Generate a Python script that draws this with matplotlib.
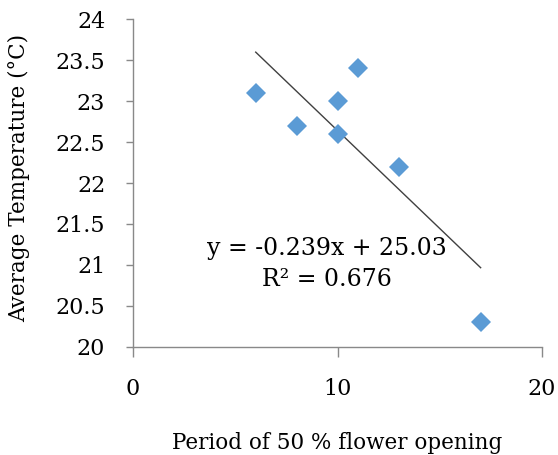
import matplotlib
matplotlib.use("Agg")
import matplotlib.pyplot as plt
import numpy as np

# Days to 50 % flower opening vs. average temperature
period_days = [6, 8, 10, 10, 11, 13, 17]
avg_temp_c = [23.1, 22.7, 23.0, 22.6, 23.4, 22.2, 20.3]

x_ticks = [0, 10, 20]
y_ticks = [20, 20.5, 21, 21.5, 22, 22.5, 23, 23.5, 24]

slope = -0.239
intercept = 25.03
r_squared = 0.676

SERIF = "DejaVu Serif"

fig = plt.figure(figsize=(5.58, 4.55), dpi=100)
ax = fig.add_axes([0.2384, 0.2374, 0.9713 - 0.2384, 0.9582 - 0.2374])

ax.plot(period_days, avg_temp_c, linestyle="none", marker="D",
        markersize=10.3, color="#5B9BD5", markeredgewidth=0, zorder=3)

# Linear trendline over the observed range
xs = np.array([min(period_days), max(period_days)])
ax.plot(xs, slope * xs + intercept, color="#404040", linewidth=1.0, zorder=2)

ax.text(9.5, 21.207, f"y = {slope}x + {intercept}", ha="center", va="center",
        fontsize=17, family=SERIF)
ax.text(9.5, 20.817, f"R² = {r_squared}", ha="center", va="center",
        fontsize=17, family=SERIF)

ax.set_xlim(0, 20)
ax.set_ylim(20, 24)
ax.set_xticks(x_ticks)
ax.set_yticks(y_ticks)
ax.set_yticklabels([f"{v:g}" for v in y_ticks])

for side in ("top", "right"):
    ax.spines[side].set_visible(False)
for side in ("left", "bottom"):
    ax.spines[side].set_color("#898989")
    ax.spines[side].set_linewidth(1.0)

ax.tick_params(axis="y", direction="out", length=5, width=1, color="#898989",
               pad=15, labelsize=16)
ax.tick_params(axis="x", direction="out", length=7, width=1, color="#898989",
               pad=15, labelsize=16)
for lbl in ax.get_xticklabels() + ax.get_yticklabels():
    lbl.set_family(SERIF)

ax.set_xlabel("Period of 50 % flower opening", fontsize=15.5,
              family=SERIF, labelpad=23.5)
ax.set_ylabel("Average Temperature (°C)", fontsize=15.5,
              family=SERIF, labelpad=18)
ax.yaxis.label.set_y(0.515)

fig.savefig("out.png", dpi=100)
